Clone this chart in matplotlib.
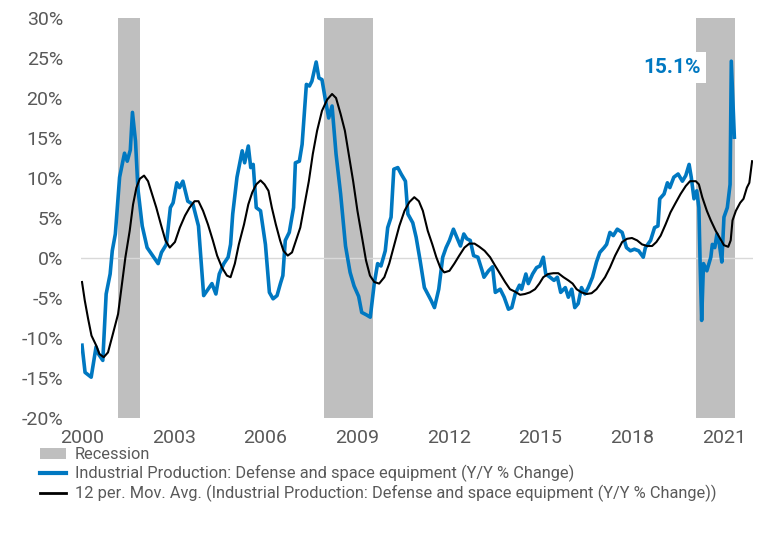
import matplotlib.pyplot as plt
from matplotlib.patches import Patch
from matplotlib.lines import Line2D

plt.rcParams['font.family'] = ['Roboto', 'DejaVu Sans']

# Industrial Production: Defense and space equipment, Y/Y % change
ip_years = [
    2000.00, 2000.10, 2000.30, 2000.46, 2000.54, 2000.68, 2000.79, 2000.92, 2000.99, 2001.09,
    2001.23, 2001.39, 2001.48, 2001.58, 2001.65, 2001.75, 2001.83, 2001.97, 2002.13, 2002.49,
    2002.60, 2002.76, 2002.89, 2002.98, 2003.10, 2003.19, 2003.30, 2003.46, 2003.63, 2003.81,
    2003.98, 2004.25, 2004.38, 2004.49, 2004.64, 2004.78, 2004.86, 2004.93, 2005.07, 2005.24,
    2005.32, 2005.44, 2005.52, 2005.60, 2005.70, 2005.84, 2006.00, 2006.13, 2006.25, 2006.38,
    2006.49, 2006.57, 2006.65, 2006.78, 2006.92, 2006.98, 2007.11, 2007.20, 2007.34, 2007.44,
    2007.52, 2007.66, 2007.75, 2007.85, 2007.96, 2008.07, 2008.18, 2008.31, 2008.46, 2008.62,
    2008.77, 2008.90, 2009.05, 2009.15, 2009.30, 2009.43, 2009.56, 2009.67, 2009.78, 2009.92,
    2010.00, 2010.11, 2010.20, 2010.33, 2010.44, 2010.58, 2010.66, 2010.82, 2010.93, 2011.06,
    2011.20, 2011.31, 2011.42, 2011.53, 2011.67, 2011.80, 2011.91, 2012.02, 2012.15, 2012.26,
    2012.38, 2012.49, 2012.59, 2012.70, 2012.81, 2012.95, 2013.09, 2013.15, 2013.30, 2013.43,
    2013.52, 2013.68, 2013.81, 2013.95, 2014.06, 2014.17, 2014.31, 2014.38, 2014.52, 2014.60,
    2014.74, 2014.87, 2014.98, 2015.09, 2015.17, 2015.31, 2015.44, 2015.55, 2015.66, 2015.81,
    2015.91, 2016.02, 2016.12, 2016.23, 2016.34, 2016.45, 2016.56, 2016.70, 2016.83, 2016.94,
    2017.08, 2017.16, 2017.27, 2017.38, 2017.51, 2017.67, 2017.81, 2017.94, 2018.07, 2018.21,
    2018.36, 2018.43, 2018.60, 2018.73, 2018.84, 2018.90, 2019.04, 2019.15, 2019.23, 2019.36,
    2019.50, 2019.64, 2019.75, 2019.86, 2019.93, 2020.02, 2020.11, 2020.18, 2020.22, 2020.27,
    2020.33, 2020.44, 2020.57, 2020.62, 2020.70, 2020.77, 2020.85, 2020.93, 2021.00, 2021.11,
    2021.20, 2021.24, 2021.34,
]
ip_yoy = [
    -10.9, -14.3, -14.9, -11.1, -12.0, -12.8, -4.5, -2.0, 0.9, 3.0,
    10.1, 13.1, 12.1, 13.5, 18.2, 14.6, 8.6, 4.0, 1.3, -0.7,
    0.7, 1.7, 6.3, 6.9, 9.4, 8.8, 9.6, 7.1, 6.7, 4.0,
    -4.7, -3.2, -4.5, -2.0, -0.7, 0.1, 1.7, 5.5, 10.1, 13.4,
    11.9, 14.0, 11.3, 11.7, 6.3, 5.9, 1.7, -4.3, -5.1, -4.7,
    -3.2, -2.2, 2.2, 3.2, 6.3, 11.9, 12.1, 14.2, 21.7, 21.5,
    22.1, 24.5, 22.5, 22.3, 19.8, 17.5, 19.0, 13.0, 8.0, 1.5,
    -1.8, -3.5, -4.8, -6.8, -7.1, -7.4, -3.2, -0.7, -1.0, 0.9,
    3.8, 5.1, 11.1, 11.3, 10.5, 9.6, 5.5, 4.4, 2.6, -0.3,
    -3.7, -4.5, -5.3, -6.2, -3.9, 0.1, 1.3, 2.2, 3.6, 2.6,
    1.5, 3.0, 2.4, 2.2, 0.3, 0.1, -1.6, -2.4, -1.6, -1.1,
    -4.3, -3.9, -4.9, -6.4, -6.2, -4.5, -3.4, -3.9, -2.0, -3.2,
    -2.0, -1.2, -1.0, 0.1, -2.0, -2.4, -2.8, -2.4, -4.3, -3.7,
    -4.9, -3.9, -6.2, -5.7, -3.7, -4.5, -3.7, -2.4, -0.5, 0.7,
    1.3, 1.7, 3.2, 2.8, 3.6, 3.2, 1.3, 0.9, 1.1, 0.9,
    0.1, 1.3, 2.2, 3.8, 4.0, 7.4, 8.0, 9.4, 8.8, 10.1,
    10.5, 9.6, 10.3, 11.7, 10.1, 7.4, 8.4, 6.3, -0.7, -7.8,
    -0.7, -1.6, 0.1, 1.7, 1.3, 3.0, 1.7, -0.5, 5.1, 6.3,
    9.2, 24.6, 15.1,
]

# 12 period moving average
ma_years = [
    2000.00, 2000.09, 2000.20, 2000.31, 2000.46, 2000.57, 2000.71, 2000.85, 2001.01, 2001.18,
    2001.31, 2001.42, 2001.56, 2001.67, 2001.78, 2001.89, 2002.03, 2002.16, 2002.29, 2002.43,
    2002.58, 2002.73, 2002.87, 2003.04, 2003.20, 2003.37, 2003.52, 2003.68, 2003.81, 2003.96,
    2004.12, 2004.28, 2004.42, 2004.58, 2004.74, 2004.86, 2005.00, 2005.13, 2005.30, 2005.44,
    2005.57, 2005.70, 2005.84, 2005.97, 2006.10, 2006.21, 2006.34, 2006.48, 2006.59, 2006.73,
    2006.87, 2007.00, 2007.14, 2007.28, 2007.42, 2007.55, 2007.69, 2007.85, 2008.02, 2008.18,
    2008.31, 2008.46, 2008.60, 2008.74, 2008.87, 2009.01, 2009.16, 2009.29, 2009.42, 2009.56,
    2009.72, 2009.89, 2010.05, 2010.22, 2010.38, 2010.55, 2010.71, 2010.87, 2011.02, 2011.15,
    2011.31, 2011.46, 2011.59, 2011.72, 2011.85, 2012.02, 2012.18, 2012.34, 2012.51, 2012.67,
    2012.84, 2013.00, 2013.17, 2013.35, 2013.52, 2013.68, 2013.84, 2014.00, 2014.16, 2014.33,
    2014.49, 2014.65, 2014.82, 2014.96, 2015.09, 2015.25, 2015.42, 2015.58, 2015.75, 2015.91,
    2016.05, 2016.18, 2016.34, 2016.51, 2016.67, 2016.83, 2016.96, 2017.11, 2017.27, 2017.44,
    2017.56, 2017.67, 2017.83, 2017.99, 2018.16, 2018.32, 2018.49, 2018.65, 2018.79, 2018.93,
    2019.09, 2019.25, 2019.42, 2019.58, 2019.75, 2019.89, 2020.08, 2020.18, 2020.29, 2020.44,
    2020.57, 2020.73, 2020.88, 2021.00, 2021.14, 2021.22, 2021.28, 2021.39, 2021.53, 2021.64,
    2021.75, 2021.83, 2021.92,
]
ma_yoy = [
    -3.0, -5.3, -7.6, -9.7, -10.9, -12.0, -12.4, -11.8, -9.5, -7.0,
    -3.2, 0.1, 3.4, 6.7, 8.8, 9.9, 10.3, 9.6, 8.0, 6.3,
    4.2, 2.2, 1.3, 2.0, 3.8, 5.3, 6.3, 7.1, 7.1, 5.9,
    4.2, 2.2, 0.3, -1.2, -2.2, -2.4, -0.7, 1.7, 4.2, 6.7,
    8.2, 9.2, 9.7, 9.2, 8.4, 6.3, 4.2, 2.2, 0.9, 0.3,
    0.7, 2.2, 3.8, 6.7, 9.6, 13.0, 15.9, 18.4, 19.8, 20.5,
    20.0, 18.0, 15.9, 12.6, 9.6, 5.9, 2.6, -0.3, -2.2, -3.0,
    -3.2, -2.4, -0.7, 1.7, 4.0, 5.9, 7.0, 7.6, 7.1, 5.9,
    3.4, 1.7, 0.1, -1.2, -1.8, -1.6, -0.7, 0.3, 1.3, 1.8,
    1.8, 1.4, 0.9, 0.1, -1.0, -2.0, -3.0, -3.9, -4.2, -4.6,
    -4.5, -4.3, -3.9, -3.2, -2.4, -2.0, -1.9, -1.9, -2.4, -2.8,
    -3.2, -3.9, -4.3, -4.5, -4.4, -3.9, -3.2, -2.4, -1.2, 0.3,
    1.2, 2.0, 2.4, 2.5, 2.2, 1.7, 1.5, 1.5, 2.0, 2.8,
    4.2, 5.7, 6.9, 8.0, 9.0, 9.6, 9.6, 9.2, 7.6, 5.9,
    4.7, 3.4, 2.4, 1.6, 1.4, 2.2, 4.7, 5.9, 6.9, 7.4,
    8.8, 9.4, 12.1,
]

# recession periods (start, end)
recessions = [(2001.17, 2001.91), (2007.92, 2009.52), (2020.08, 2021.37)]

year_ticks = [2000, 2003, 2006, 2009, 2012, 2015, 2018, 2021]
pct_ticks = [-20, -15, -10, -5, 0, 5, 10, 15, 20, 25, 30]

BLUE = "#0078c1"
GREY_BAND = "#bfbfbf"
TXT = "#595959"

fig = plt.figure(figsize=(7.64, 5.33), dpi=100)
ax = fig.add_axes([81 / 764, 1 - 418 / 533, 672 / 764, 400 / 533])

for start, end in recessions:
    ax.axvspan(start, end, color=GREY_BAND, lw=0, zorder=1)

ax.axhline(0, color="#d9d9d9", lw=1, zorder=2)
ax.plot(ip_years, ip_yoy, color=BLUE, lw=2.6, zorder=3, solid_joinstyle="round")
ax.plot(ma_years, ma_yoy, color="black", lw=1.5, zorder=4)

ax.text(2019.30, 23.8, "15.1%", color=BLUE, fontsize=15, fontweight="bold",
        ha="center", va="center", zorder=5,
        bbox=dict(facecolor="white", edgecolor="none", pad=4))

ax.set_xlim(1999.967, 2021.95)
ax.set_ylim(-20, 30)
ax.set_xticks(year_ticks)
ax.set_xticklabels([str(y) for y in year_ticks])
ax.set_yticks(pct_ticks)
ax.set_yticklabels([f"{p}%" for p in pct_ticks])
ax.tick_params(length=0, labelsize=14, labelcolor=TXT)
ax.tick_params(axis="x", pad=8)
ax.tick_params(axis="y", pad=13)
for s in ax.spines.values():
    s.set_visible(False)

handles = [
    Patch(facecolor=GREY_BAND, edgecolor="none"),
    Line2D([], [], color=BLUE, lw=3),
    Line2D([], [], color="black", lw=2),
]
labels = [
    "Recession",
    "Industrial Production: Defense and space equipment (Y/Y % Change)",
    "12 per. Mov. Avg. (Industrial Production: Defense and space equipment (Y/Y % Change))",
]
fig.legend(handles, labels, loc="upper left", bbox_to_anchor=(0.052, 0.161),
           frameon=False, fontsize=11.8, labelcolor=TXT, handlelength=1.6,
           handleheight=0.6, handletextpad=0.55, labelspacing=0.17, borderpad=0,
           borderaxespad=0)

fig.savefig("out.png", dpi=100)
